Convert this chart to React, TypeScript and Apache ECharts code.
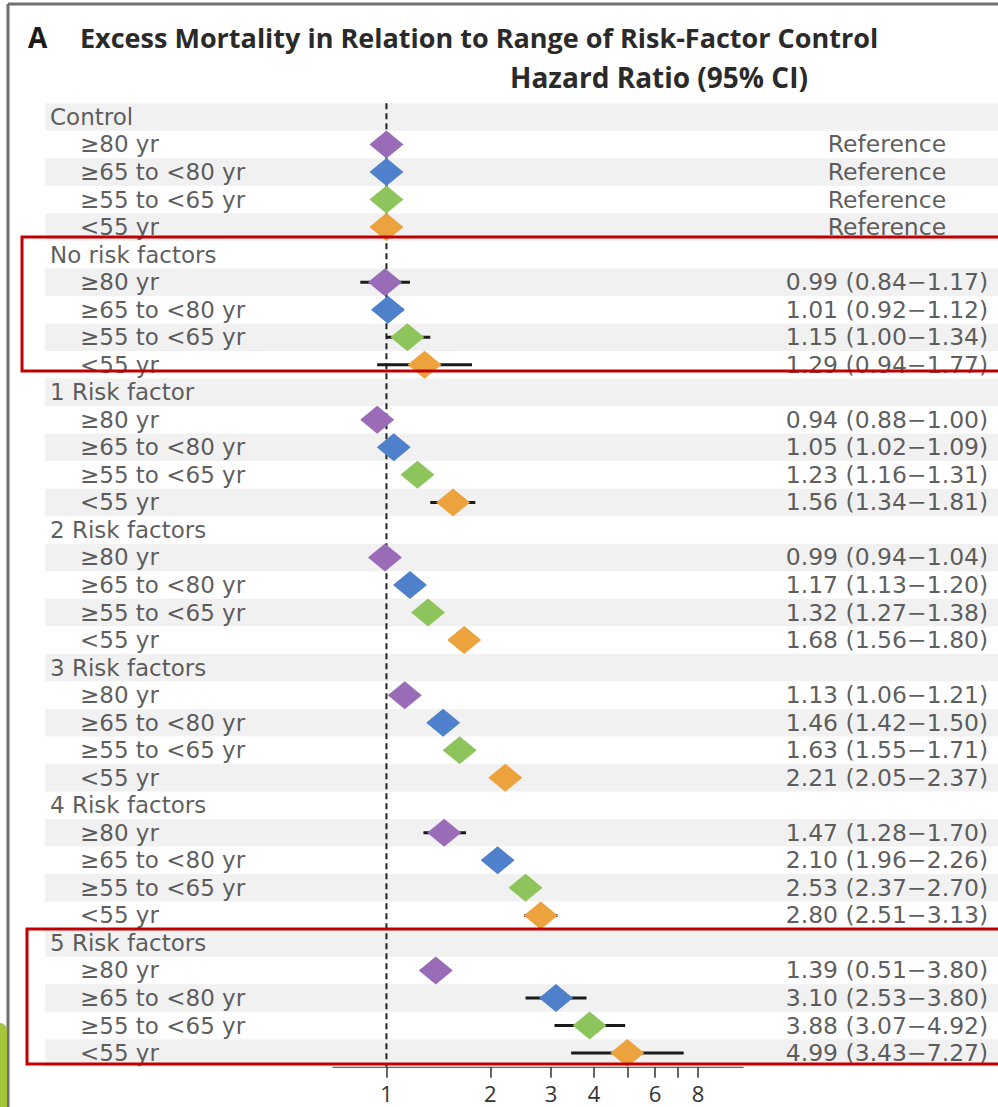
import React, { useEffect, useRef } from "react";
import * as echarts from "echarts";

const groups = [
  "Control",
  "No risk factors",
  "1 Risk factor",
  "2 Risk factors",
  "3 Risk factors",
  "4 Risk factors",
  "5 Risk factors",
];
const ageBands = ["≥80 yr", "≥65 to <80 yr", "≥55 to <65 yr", "<55 yr"];
const ageColors = ["#9a6cb8", "#4f80cc", "#8dc55c", "#eca23d"];

const hazardRatio = [
  [1.0, 1.0, 1.0, 1.0],
  [0.99, 1.01, 1.15, 1.29],
  [0.94, 1.05, 1.23, 1.56],
  [0.99, 1.17, 1.32, 1.68],
  [1.13, 1.46, 1.63, 2.21],
  [1.47, 2.1, 2.53, 2.8],
  [1.39, 3.1, 3.88, 4.99],
];
const ciLow = [
  [null, null, null, null],
  [0.84, 0.92, 1.0, 0.94],
  [0.88, 1.02, 1.16, 1.34],
  [0.94, 1.13, 1.27, 1.56],
  [1.06, 1.42, 1.55, 2.05],
  [1.28, 1.96, 2.37, 2.51],
  [0.51, 2.53, 3.07, 3.43],
];
const ciHigh = [
  [null, null, null, null],
  [1.17, 1.12, 1.34, 1.77],
  [1.0, 1.09, 1.31, 1.81],
  [1.04, 1.2, 1.38, 1.8],
  [1.21, 1.5, 1.71, 2.37],
  [1.7, 2.26, 2.7, 3.13],
  [3.8, 3.8, 4.92, 7.27],
];
// whisker not drawn in the original figure for this row
const hiddenWhiskers = ["5 Risk factors|≥80 yr"];

const tickValues = [1, 2, 3, 4, 5, 6, 7, 8];
const tickLabelValues = [1, 2, 3, 4, 6, 8];

const TITLE = "Excess Mortality in Relation to Range of Risk-Factor Control";
const SUBTITLE = "Hazard Ratio (95% CI)";

const FONT = "'Open Sans', sans-serif";
const ROW_FONT = "'DejaVu Sans', sans-serif";
const TEXT = "#333333";

export default function App() {
  const ref = useRef<HTMLDivElement>(null);

  useEffect(() => {
    document.body.style.margin = "0";
    if (!ref.current) return;
    const chart = echarts.init(ref.current, null, { renderer: "svg" });

    type Row = { head: boolean; label: string; g: number; b: number };
    const rows: Row[] = [];
    groups.forEach((g, gi) => {
      rows.push({ head: true, label: g, g: gi, b: -1 });
      ageBands.forEach((a, bi) => rows.push({ head: false, label: a, g: gi, b: bi }));
    });
    const nRows = rows.length;

    const fmt = (v: number) => v.toFixed(2);

    const bands = rows.map((_, i) => i).filter((i) => i % 2 === 0).map((i) => [i]);

    const leftLabels = rows.map((r, i) => ({
      value: [0, i],
      label: { distance: r.head ? 5 : 35, formatter: r.label },
    }));
    const rightLabels = rows
      .map((r, i) => ({ r, i }))
      .filter(({ r }) => !r.head)
      .map(({ r, i }) => {
        const lo = ciLow[r.g][r.b];
        const hi = ciHigh[r.g][r.b];
        const txt =
          lo == null || hi == null
            ? "Reference"
            : `${fmt(hazardRatio[r.g][r.b])} (${fmt(lo)}−${fmt(hi)})`;
        return { value: [0.8835, i], label: { formatter: txt } };
      });

    const whiskers = rows
      .map((r, i) => ({ r, i }))
      .filter(({ r }) => !r.head && ciLow[r.g][r.b] != null)
      .filter(({ r }) => !hiddenWhiskers.includes(`${groups[r.g]}|${ageBands[r.b]}`))
      .map(({ r, i }) => [ciLow[r.g][r.b], ciHigh[r.g][r.b], i]);

    const diamonds = rows
      .map((r, i) => ({ r, i }))
      .filter(({ r }) => !r.head)
      .map(({ r, i }) => ({
        value: [hazardRatio[r.g][r.b], i],
        itemStyle: { color: ageColors[r.b], opacity: 1 },
      }));

    const top = 103.2;
    const height = 963.6;
    const yBase = {
      type: "value",
      min: -0.5,
      max: nRows - 0.5,
      inverse: true,
      show: false,
      splitLine: { show: false },
    };

    const option: any = {
      animation: false,
      backgroundColor: "#ffffff",
      grid: [
        { left: 45, right: 0, top, height },
        { left: 333, width: 410, top, height },
      ],
      xAxis: [
        { gridIndex: 0, type: "value", min: 0, max: 1, show: false, splitLine: { show: false } },
        {
          gridIndex: 1,
          type: "log",
          logBase: 10,
          min: 0.7,
          max: 10.8,
          position: "bottom",
          axisLine: { show: true, onZero: false, lineStyle: { color: "#333", width: 1.5 } },
          axisTick: {
            show: true,
            customValues: tickValues,
            length: 11,
            lineStyle: { color: "#333", width: 1.5 },
          },
          axisLabel: {
            show: true,
            customValues: tickLabelValues,
            fontFamily: FONT,
            fontSize: 22,
            lineHeight: 22,
            color: TEXT,
            margin: 15,
            formatter: (v: number) => String(Math.round(v)),
          },
          splitLine: { show: false },
          minorTick: { show: false },
          minorSplitLine: { show: false },
        },
      ],
      yAxis: [
        { gridIndex: 0, ...yBase },
        { gridIndex: 1, ...yBase },
      ],
      series: [
        {
          type: "custom",
          xAxisIndex: 0,
          yAxisIndex: 0,
          silent: true,
          encode: { y: 0 },
          renderItem: (params: any, api: any) => {
            const r = api.value(0);
            const p1 = api.coord([0, r - 0.5]);
            const p2 = api.coord([1, r + 0.5]);
            return {
              type: "rect",
              shape: { x: p1[0], y: p1[1], width: p2[0] - p1[0], height: p2[1] - p1[1] },
              style: { fill: "#f1f1f1" },
            };
          },
          data: bands,
          z: 1,
        },
        {
          type: "scatter",
          xAxisIndex: 0,
          yAxisIndex: 0,
          symbolSize: 0,
          silent: true,
          itemStyle: { color: "rgba(0,0,0,0)" },
          label: {
            show: true,
            position: "right",
            fontFamily: ROW_FONT,
            fontSize: 23,
            lineHeight: 25,
            color: TEXT,
          },
          data: leftLabels,
          z: 3,
        },
        {
          type: "scatter",
          xAxisIndex: 0,
          yAxisIndex: 0,
          symbolSize: 0,
          silent: true,
          itemStyle: { color: "rgba(0,0,0,0)" },
          label: {
            show: true,
            position: "inside",
            align: "center",
            fontFamily: ROW_FONT,
            fontSize: 23.5,
            lineHeight: 25,
            color: TEXT,
          },
          data: rightLabels,
          z: 3,
        },
        {
          type: "line",
          xAxisIndex: 1,
          yAxisIndex: 1,
          silent: true,
          symbol: "none",
          lineStyle: { color: "#222", width: 2, type: [6, 4] },
          data: [
            [1, -0.5],
            [1, nRows - 0.5],
          ],
          z: 3,
        },
        {
          type: "custom",
          xAxisIndex: 1,
          yAxisIndex: 1,
          silent: true,
          encode: { x: [0, 1], y: 2 },
          renderItem: (params: any, api: any) => {
            const p1 = api.coord([api.value(0), api.value(2)]);
            const p2 = api.coord([api.value(1), api.value(2)]);
            return {
              type: "line",
              shape: { x1: p1[0], y1: p1[1], x2: p2[0], y2: p2[1] },
              style: { stroke: "#1a1a1a", lineWidth: 3 },
            };
          },
          data: whiskers,
          z: 4,
        },
        {
          type: "scatter",
          xAxisIndex: 1,
          yAxisIndex: 1,
          symbol: "diamond",
          symbolSize: [34, 28],
          silent: true,
          itemStyle: { opacity: 1 },
          data: diamonds,
          z: 5,
        },
      ],
      graphic: [
        {
          type: "line",
          shape: { x1: 8, y1: 4, x2: 8, y2: 1107 },
          style: { stroke: "#707070", lineWidth: 3 },
          z: 10,
        },
        {
          type: "line",
          shape: { x1: 8, y1: 4, x2: 998, y2: 4 },
          style: { stroke: "#707070", lineWidth: 3 },
          z: 10,
        },
        {
          type: "rect",
          shape: { x: 0, y: 1023, width: 7, height: 84, r: [0, 10, 0, 0] },
          style: { fill: "#a3c63d" },
          z: 10,
        },
        {
          type: "text",
          x: 28,
          y: 37,
          style: {
            text: "A",
            fontFamily: FONT,
            fontWeight: "bold",
            fontSize: 28,
            fill: "#1a1a1a",
            verticalAlign: "middle",
          },
          z: 10,
        },
        {
          type: "text",
          x: 80,
          y: 37,
          style: {
            text: TITLE,
            fontFamily: FONT,
            fontWeight: "bold",
            fontSize: 27,
            fill: "#2a2a2a",
            verticalAlign: "middle",
          },
          z: 10,
        },
        {
          type: "text",
          x: 659,
          y: 77,
          style: {
            text: SUBTITLE,
            fontFamily: FONT,
            fontWeight: "bold",
            fontSize: 28,
            fill: "#2a2a2a",
            align: "center",
            verticalAlign: "middle",
          },
          z: 10,
        },
        {
          type: "rect",
          shape: { x: 22, y: 237, width: 990, height: 134 },
          style: { fill: "none", stroke: "#c00000", lineWidth: 3 },
          z: 20,
        },
        {
          type: "rect",
          shape: { x: 27, y: 929, width: 990, height: 135 },
          style: { fill: "none", stroke: "#c00000", lineWidth: 3 },
          z: 20,
        },
      ],
    };

    chart.setOption(option);
    return () => chart.dispose();
  }, []);

  return <div ref={ref} style={{ width: 998, height: 1107 }} />;
}
